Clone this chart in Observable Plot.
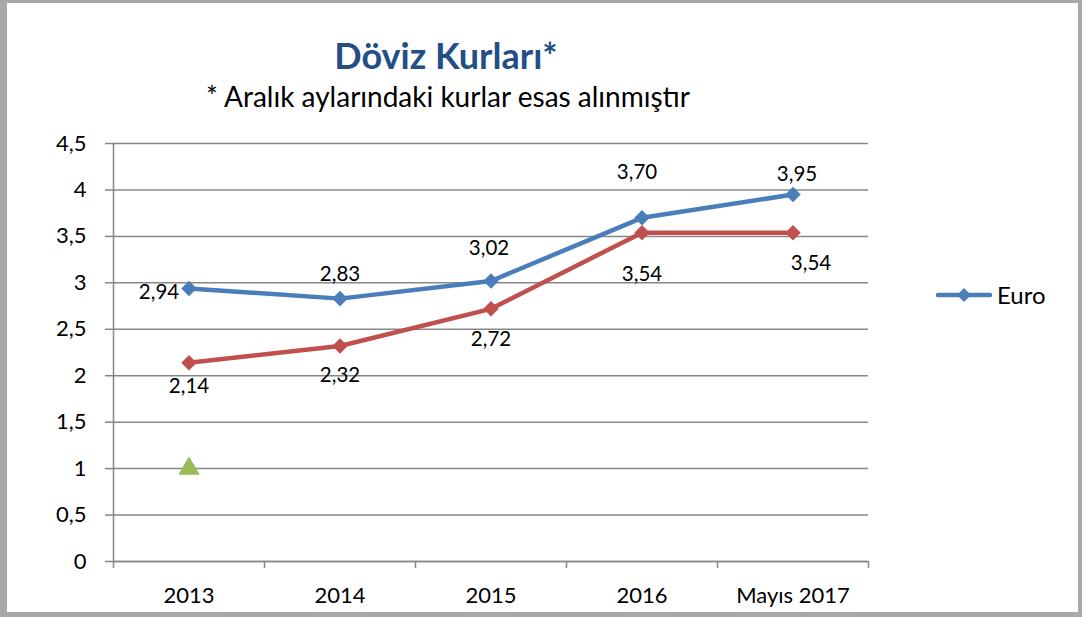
<!DOCTYPE html>
<html>
<head>
<meta charset="utf-8">
<script src="https://cdn.jsdelivr.net/npm/d3@7"></script>
<script src="https://cdn.jsdelivr.net/npm/@observablehq/plot@0.6"></script>
<style>
  html, body { margin: 0; padding: 0; background: #fff; }
  #wrap { position: relative; width: 1082px; height: 617px; overflow: hidden; font-family: Lato, "Open Sans", sans-serif; background: #fff; }
  #border { position: absolute; left: 0; top: 0; width: 1082px; height: 617px; box-sizing: border-box;
    border-left: 7px solid #a8a8a8; border-top: 3px solid #a8a8a8; border-right: 4px solid #a8a8a8; border-bottom: 5px solid #a8a8a8; pointer-events: none; z-index: 5; }
  #title { position: absolute; left: 0; width: 892px; top: 37px; text-align: center; font-size: 36px; line-height: 36px; font-weight: bold; color: #234f87; }
  #subtitle { position: absolute; left: 0; width: 896px; top: 82px; text-align: center; font-size: 28px; line-height: 28px; color: #000; }
  #chart { position: absolute; left: 0; top: 125px; }
  #legend { position: absolute; left: 936px; top: 280px; display: flex; align-items: center; font-size: 24px; color: #000; }
  #legend svg { margin-right: 5px; }
</style>
</head>
<body>
<div id="wrap">
  <div id="title">Döviz Kurları*</div>
  <div id="subtitle">* Aralık aylarındaki kurlar esas alınmıştır</div>
  <div id="chart"></div>
  <div id="legend"></div>
  <div id="border"></div>
</div>
<script>
const categories = ["2013", "2014", "2015", "2016", "Mayıs 2017"];
const euro = [2.94, 2.83, 3.02, 3.70, 3.95];
const dolar = [2.14, 2.32, 2.72, 3.54, 3.54];
const diger = [1, null, null, null, null];
const yTicks = [0, 0.5, 1, 1.5, 2, 2.5, 3, 3.5, 4, 4.5];
const seriesNames = ["Euro"];

const euroColor = "#4a7ebb";
const dolarColor = "#c0504d";
const digerColor = "#9bbb59";
const gridColor = "#878787";

const rows = categories.map((c, i) => ({i, c, euro: euro[i], dolar: dolar[i], diger: diger[i]}));
const fmt = v => d3.format(".2f")(v).replace(".", ",");
const tickFmt = v => String(v).replace(".", ",");
const boundaries = d3.range(categories.length + 1).map(k => k - 0.5);

// per-label placement (offsets in px relative to the point)
const euroLabelOffsets = [[-30, 4], [0, -24], [-2, -33], [-5, -45], [4, -20]];
const dolarLabelOffsets = [[0, 24], [0, 29], [0, 31], [0, 42], [18, 31]];

const labelMarks = [];
rows.forEach((r, k) => {
  labelMarks.push(Plot.text([r], {x: "i", y: "euro", text: d => fmt(d.euro), dx: euroLabelOffsets[k][0], dy: euroLabelOffsets[k][1], fontSize: 20.5, fill: "#000"}));
  labelMarks.push(Plot.text([r], {x: "i", y: "dolar", text: d => fmt(d.dolar), dx: dolarLabelOffsets[k][0], dy: dolarLabelOffsets[k][1], fontSize: 20.5, fill: "#000"}));
});

const chart = Plot.plot({
  width: 1082,
  height: 492,
  marginLeft: 113,
  marginRight: 214,
  marginTop: 18,
  marginBottom: 56,
  style: {fontFamily: "Lato, 'Open Sans', sans-serif", background: "transparent", overflow: "visible"},
  x: {domain: [-0.5, categories.length - 0.5], axis: null, label: null},
  y: {domain: [0, 4.5], axis: null, label: null},
  marks: [
    Plot.gridY(yTicks, {stroke: gridColor, strokeOpacity: 1, strokeWidth: 1.5}),
    Plot.axisY({ticks: yTicks, tickSize: 8, tickPadding: 19, tickFormat: tickFmt, fontSize: 22, stroke: gridColor, strokeWidth: 1.5, fill: "#000", label: null}),
    Plot.ruleX([-0.5], {y1: 0, y2: 4.5, stroke: gridColor, strokeWidth: 1.5}),
    Plot.ruleY([0], {stroke: gridColor, strokeWidth: 1.5}),
    Plot.axisX({ticks: boundaries, tickSize: 7, tickFormat: () => "", stroke: gridColor, strokeWidth: 1.5, label: null}),
    Plot.axisX({ticks: d3.range(categories.length), tickSize: 0, tickPadding: 26, tickFormat: i => categories[i], fontSize: 22, fill: "#000", label: null}),
    Plot.line(rows, {x: "i", y: "dolar", stroke: dolarColor, strokeWidth: 4.5}),
    Plot.dot(rows, {x: "i", y: "dolar", symbol: "diamond2", r: 7, fill: dolarColor, stroke: "none"}),
    Plot.line(rows, {x: "i", y: "euro", stroke: euroColor, strokeWidth: 4.5}),
    Plot.dot(rows, {x: "i", y: "euro", symbol: "diamond2", r: 7, fill: euroColor, stroke: "none"}),
    Plot.dot(rows.filter(d => d.diger != null), {x: "i", y: "diger", symbol: "triangle", r: 8, fill: digerColor, stroke: "none"}),
    ...labelMarks
  ]
});
document.getElementById("chart").appendChild(chart);

// legend
const legend = document.getElementById("legend");
seriesNames.forEach(name => {
  const ns = "http://www.w3.org/2000/svg";
  const s = document.createElementNS(ns, "svg");
  s.setAttribute("width", 56); s.setAttribute("height", 20);
  const l = document.createElementNS(ns, "line");
  l.setAttribute("x1", 2); l.setAttribute("x2", 54); l.setAttribute("y1", 10); l.setAttribute("y2", 10);
  l.setAttribute("stroke", euroColor); l.setAttribute("stroke-width", 4.5); l.setAttribute("stroke-linecap", "round");
  const p = document.createElementNS(ns, "path");
  p.setAttribute("d", "M28,3 L35,10 L28,17 L21,10 Z"); p.setAttribute("fill", euroColor);
  s.appendChild(l); s.appendChild(p);
  const t = document.createElement("span"); t.textContent = name;
  legend.appendChild(s); legend.appendChild(t);
});
</script>
</body>
</html>
